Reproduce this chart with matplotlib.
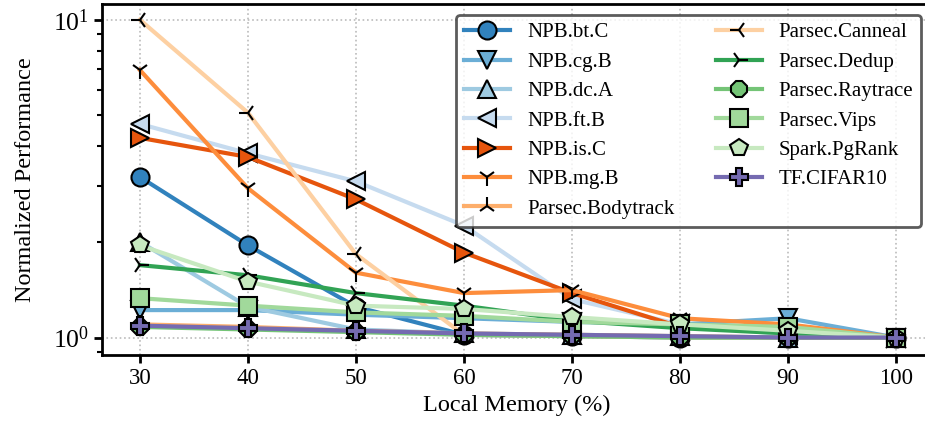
import matplotlib
matplotlib.use("Agg")
import matplotlib.pyplot as plt
from matplotlib.ticker import LogLocator, NullFormatter

plt.rcParams["font.family"] = ["Liberation Serif", "DejaVu Serif"]
plt.rcParams["mathtext.fontset"] = "stix"

# local memory ratio (%)
mem = [30, 40, 50, 60, 70, 80, 90, 100]

# normalized performance per workload
bt_c = [3.2, 1.95, 1.25, 1.02, 1.01, 1.0, 1.0, 1.0]
cg_b = [1.22, 1.22, 1.18, 1.15, 1.12, 1.1, 1.15, 1.0]
dc_a = [2.0, 1.25, 1.06, 1.03, 1.02, 1.01, 1.0, 1.0]
ft_b = [4.7, 3.8, 3.1, 2.25, 1.32, 1.1, 1.02, 1.0]
is_c = [4.25, 3.7, 2.72, 1.85, 1.38, 1.08, 1.05, 1.0]
mg_b = [6.95, 2.95, 1.6, 1.38, 1.41, 1.15, 1.1, 1.0]
bodytrack = [1.1, 1.08, 1.05, 1.03, 1.02, 1.01, 1.0, 1.0]
canneal = [10.0, 5.1, 1.83, 1.02, 1.01, 1.0, 1.0, 1.0]
dedup = [1.69, 1.57, 1.38, 1.26, 1.13, 1.07, 1.03, 1.0]
raytrace = [1.08, 1.06, 1.04, 1.02, 1.01, 1.0, 1.0, 1.0]
vips = [1.33, 1.26, 1.2, 1.17, 1.12, 1.1, 1.08, 1.0]
pgrank = [1.95, 1.5, 1.26, 1.23, 1.16, 1.1, 1.05, 1.0]
cifar = [1.09, 1.07, 1.05, 1.03, 1.02, 1.01, 1.0, 1.0]

names = ["NPB.bt.C", "NPB.cg.B", "NPB.dc.A", "NPB.ft.B", "NPB.is.C", "NPB.mg.B",
         "Parsec.Bodytrack", "Parsec.Canneal", "Parsec.Dedup", "Parsec.Raytrace",
         "Parsec.Vips", "Spark.PgRank", "TF.CIFAR10"]
series = [bt_c, cg_b, dc_a, ft_b, is_c, mg_b, bodytrack, canneal, dedup,
          raytrace, vips, pgrank, cifar]
markers = ["o", "v", "^", "<", ">", "1", "2", "3", "4", "8", "s", "p", "P"]

cmap = plt.get_cmap("tab20c")

fig = plt.figure(figsize=(9.25, 4.37), dpi=100)
ax = fig.add_axes([0.1103, 0.1876, 0.897, 0.803])

for i, (name, vals, mk) in enumerate(zip(names, series, markers)):
    ax.plot(mem, vals, label=name, color=cmap(i), linewidth=3,
            marker=mk, markersize=13, markeredgecolor="black",
            markeredgewidth=1.5)

ax.set_yscale("log")
ax.set_ylim(0.881, 11.2)
ax.set_xlim(26.5, 103.3)
ax.set_xticks(mem)
ax.yaxis.set_major_locator(LogLocator(base=10))
ax.yaxis.set_minor_locator(LogLocator(base=10, subs=range(2, 10)))
ax.yaxis.set_minor_formatter(NullFormatter())

ax.grid(True, which="major", linestyle=":", color="#bbbbbb", linewidth=1.2)
for s in ax.spines.values():
    s.set_linewidth(2)
ax.tick_params(axis="x", which="major", labelsize=16.5, width=2, length=6)
ax.tick_params(axis="y", which="major", labelsize=18.5, width=2, length=6)
ax.tick_params(axis="y", which="minor", width=1.5, length=3.5)

ax.set_xlabel("Local Memory (%)", fontsize=17.5)
ax.set_ylabel("Normalized Performance", fontsize=17.5, labelpad=12)

leg = ax.legend(loc="upper right", ncol=2, fontsize=15, handlelength=2.2,
                labelspacing=0.47, columnspacing=2.0, borderaxespad=0.5)
leg.get_frame().set_edgecolor("#333333")
leg.get_frame().set_linewidth(2)

fig.savefig("out.png", dpi=100)
